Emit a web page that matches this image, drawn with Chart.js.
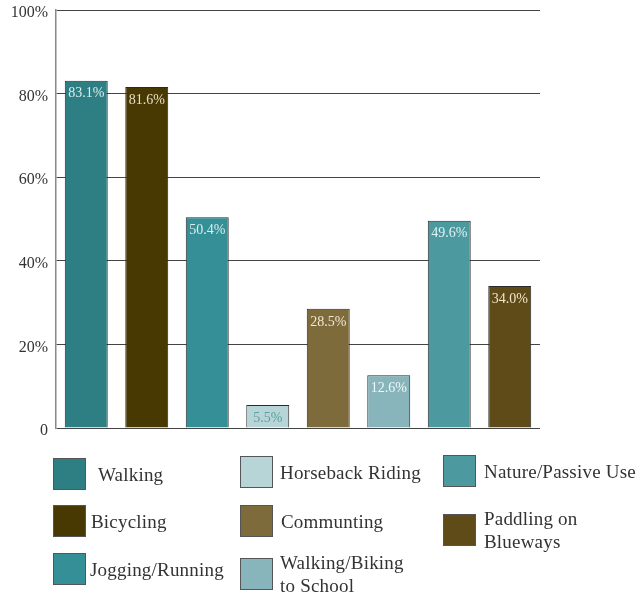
<!DOCTYPE html>
<html>
<head>
<meta charset="utf-8">
<script src="https://cdn.jsdelivr.net/npm/chart.js@4"></script>
<style>
  body { margin: 0; background: #fff; }
  #wrap { position: relative; width: 639px; height: 596px; }
  #chartBox { position: absolute; left: 0; top: 0; width: 639px; height: 445px; }
  #legend { position: absolute; left: 0; top: 0; width: 639px; height: 596px; pointer-events: none; }
  .item { position: absolute; display: flex; align-items: center; font-family: "Liberation Serif", serif; font-size: 19px; letter-spacing: 0.2px; color: #333; line-height: 23px; }
  .swatch { width: 33px; height: 32px; border: 1px solid #555; box-sizing: border-box; margin-right: 7px; flex: none; }
</style>
</head>
<body>
<div id="wrap">
  <div id="chartBox"><canvas id="activityChart"></canvas></div>
  <div id="legend"></div>
</div>
<script>
// Trail use by activity - survey results

const categories = ['Walking', 'Bicycling', 'Jogging/Running', 'Horseback Riding', 'Communting',
                    'Walking/Biking to School', 'Nature/Passive Use', 'Paddling on Blueways'];
const percentages = [83.1, 81.6, 50.4, 5.5, 28.5, 12.6, 49.6, 34.0];
const barColors = ['#2e7f84', '#483903', '#358f97', '#b7d5d7', '#7e6b3b', '#87b5bb', '#4c9aa0', '#5e4b17'];
const labelColors = ['#d9eeee', '#e6dfc6', '#d9eeee', '#5a9fa4', '#f0e8d2', '#eef7f8', '#e2f2f3', '#efe6cc'];
const yTicks = [0, 20, 40, 60, 80, 100];

// legend layout: column/row slot for each category, and split label lines
const legendLines = [['Walking'], ['Bicycling'], ['Jogging/Running'], ['Horseback Riding'], ['Communting'],
                     ['Walking/Biking', 'to School'], ['Nature/Passive Use'], ['Paddling on', 'Blueways']];
const legendSlots = [
    { x: 53, y: 458, pad: 12 }, { x: 53, y: 505, pad: 5 }, { x: 53, y: 553, pad: 4 },
    { x: 240, y: 456, pad: 7 }, { x: 240, y: 505, pad: 8 }, { x: 240, y: 551, pad: 7 },
    { x: 443, y: 455, pad: 8 }, { x: 443, y: 507, pad: 8 }
];

// value labels drawn inside the top of each bar
const barValueLabels = {
    id: 'barValueLabels',
    afterDatasetsDraw(chart) {
        const ctx = chart.ctx;
        const meta = chart.getDatasetMeta(0);
        ctx.save();
        ctx.font = '14px "Liberation Serif", serif';
        ctx.textAlign = 'center';
        ctx.textBaseline = 'top';
        meta.data.forEach((bar, i) => {
            ctx.fillStyle = labelColors[i];
            ctx.fillText(percentages[i].toFixed(1) + '%', bar.x, bar.y + 6);
        });
        ctx.restore();
    }
};

const ctx = document.getElementById('activityChart').getContext('2d');
new Chart(ctx, {
    type: 'bar',
    data: {
        labels: categories,
        datasets: [{
            data: percentages,
            backgroundColor: barColors,
            borderColor: '#2a2a2a',
            borderWidth: 1,
            borderSkipped: 'bottom',
            categoryPercentage: 1.0,
            barPercentage: 0.71
        }]
    },
    options: {
        responsive: true,
        maintainAspectRatio: false,
        animation: false,
        layout: { padding: { top: 10, right: 99, bottom: 17, left: 1 } },
        plugins: {
            legend: { display: false },
            tooltip: { enabled: false }
        },
        scales: {
            x: { display: false },
            y: {
                min: 0,
                max: 100,
                afterBuildTicks: axis => { axis.ticks = yTicks.map(v => ({ value: v })); },
                afterFit: axis => {
                    axis.width = 55;
                    axis.paddingTop = 0;
                    axis.paddingBottom = 0;
                },
                ticks: {
                    padding: 8,
                    labelOffset: 3,
                    color: '#333',
                    font: { family: '"Liberation Serif", serif', size: 16 },
                    callback: v => v === 0 ? '0' : v + '%'
                },
                grid: { color: '#444', lineWidth: 1, drawTicks: false },
                border: { display: true, color: '#888', width: 1.5 }
            }
        }
    },
    plugins: [barValueLabels]
});

// build the legend from the same arrays
const legend = document.getElementById('legend');
categories.forEach((name, i) => {
    const slot = legendSlots[i];
    const item = document.createElement('div');
    item.className = 'item';
    item.style.left = slot.x + 'px';
    item.style.top = slot.y + 'px';
    const sw = document.createElement('div');
    sw.className = 'swatch';
    sw.style.background = barColors[i];
    sw.style.marginRight = slot.pad + 'px';
    const txt = document.createElement('div');
    txt.innerHTML = legendLines[i].join('<br>');
    item.appendChild(sw);
    item.appendChild(txt);
    legend.appendChild(item);
});
</script>
</body>
</html>
